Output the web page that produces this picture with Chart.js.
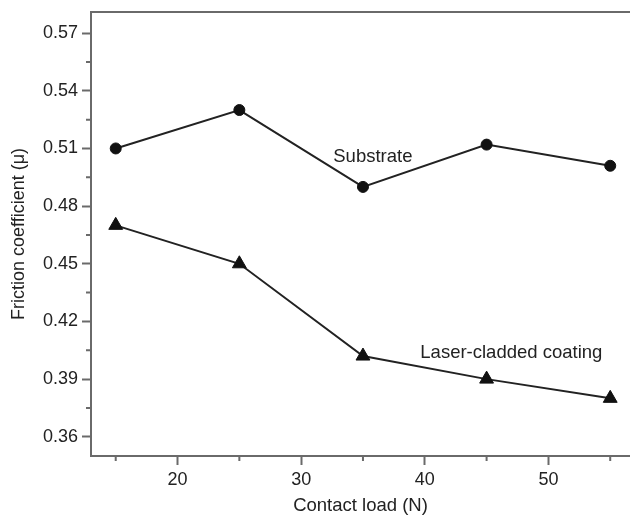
<!DOCTYPE html>
<html>
<head>
<meta charset="utf-8">
<script src="https://cdn.jsdelivr.net/npm/chart.js@4.4.1/dist/chart.umd.min.js"></script>
<style>
  body { margin: 0; background: #fff; }
  #wrap { width: 630px; height: 515px; }
</style>
</head>
<body>
<div id="wrap"><canvas id="myChart" width="630" height="515"></canvas></div>
<script>
// contact load (N)
var loads = [15, 25, 35, 45, 55];
// friction coefficient
var substrate = [0.510, 0.530, 0.490, 0.512, 0.501];
var coating = [0.470, 0.450, 0.402, 0.390, 0.380];

var xTicks = [20, 30, 40, 50];
var xMinor = [15, 25, 35, 45, 55];
var yTicks = [0.36, 0.39, 0.42, 0.45, 0.48, 0.51, 0.54, 0.57];
var yMinor = [0.375, 0.405, 0.435, 0.465, 0.495, 0.525, 0.555];

// text labels next to the lines: [text, x, y]
var labels = [
  ["Substrate", 35.8, 0.5058],
  ["Laser-cladded coating", 47.0, 0.4035]
];

var axisColor = "#6a6a6a";
var textColor = "#222";
var fontFam = "'Liberation Sans', Arial, sans-serif";

var extras = {
  id: "extras",
  afterDraw: function(chart) {
    var c = chart.ctx;
    var a = chart.chartArea;
    var xs = chart.scales.x, ys = chart.scales.y;
    c.save();
    c.strokeStyle = axisColor;
    c.lineWidth = 2;
    // top frame line
    c.beginPath();
    c.moveTo(a.left - 1, a.top);
    c.lineTo(a.right, a.top);
    c.stroke();
    // minor ticks
    c.beginPath();
    xMinor.forEach(function(v) {
      var px = xs.getPixelForValue(v);
      c.moveTo(px, a.bottom);
      c.lineTo(px, a.bottom + 5);
    });
    yMinor.forEach(function(v) {
      var py = ys.getPixelForValue(v);
      c.moveTo(a.left, py);
      c.lineTo(a.left - 5, py);
    });
    c.stroke();
    // line labels
    c.fillStyle = textColor;
    c.font = "18.5px " + fontFam;
    c.textAlign = "center";
    c.textBaseline = "middle";
    labels.forEach(function(l) {
      c.fillText(l[0], xs.getPixelForValue(l[1]), ys.getPixelForValue(l[2]));
    });
    c.restore();
  }
};

var ctx = document.getElementById("myChart");
var myChart = new Chart(ctx, {
  type: "line",
  data: {
    datasets: [
      {
        label: "Substrate",
        data: loads.map(function(x, i) { return {x: x, y: substrate[i]}; }),
        borderColor: "#222",
        backgroundColor: "#111",
        borderWidth: 2,
        pointStyle: "circle",
        pointRadius: 5.5,
        pointBorderWidth: 1,
        pointBorderColor: "#111",
        fill: false,
        clip: false
      },
      {
        label: "Laser-cladded coating",
        data: loads.map(function(x, i) { return {x: x, y: coating[i]}; }),
        borderColor: "#222",
        backgroundColor: "#111",
        borderWidth: 2,
        pointStyle: "triangle",
        pointRadius: 8,
        pointBorderWidth: 1,
        pointBorderColor: "#111",
        fill: false,
        clip: false
      }
    ]
  },
  options: {
    responsive: false,
    animation: false,
    layout: { autoPadding: false, padding: { top: 12, right: 0, left: 0, bottom: 0 } },
    plugins: {
      legend: { display: false },
      tooltip: { enabled: false }
    },
    scales: {
      x: {
        type: "linear",
        min: 13,
        max: 56.6,
        afterBuildTicks: function(s) { s.ticks = xTicks.map(function(v) { return {value: v}; }); },
        afterFit: function(s) { s.height = 59; s.paddingLeft = 0; s.paddingRight = 0; },
        grid: { drawOnChartArea: false, tickLength: 9, tickColor: axisColor, tickWidth: 2 },
        border: { color: axisColor, width: 2 },
        ticks: { color: textColor, font: { size: 18, family: fontFam }, padding: 4, maxRotation: 0 },
        title: { display: true, text: "Contact load (N)", color: textColor, font: { size: 18.5, family: fontFam, lineHeight: 1 }, padding: { top: 0, bottom: 0 } }
      },
      y: {
        min: 0.35,
        max: 0.581,
        afterBuildTicks: function(s) { s.ticks = yTicks.map(function(v) { return {value: v}; }); },
        afterFit: function(s) { s.width = 91; s.paddingTop = 0; s.paddingBottom = 0; },
        grid: { drawOnChartArea: false, tickLength: 9, tickColor: axisColor, tickWidth: 2 },
        border: { color: axisColor, width: 2 },
        ticks: {
          color: textColor,
          font: { size: 18, family: fontFam },
          padding: 4,
          callback: function(v) { return v.toFixed(2); }
        },
        title: { display: true, text: "Friction coefficient (μ)", color: textColor, font: { size: 18, family: fontFam }, padding: { top: 8, bottom: 0 } }
      }
    }
  },
  plugins: [extras]
});
</script>
</body>
</html>
